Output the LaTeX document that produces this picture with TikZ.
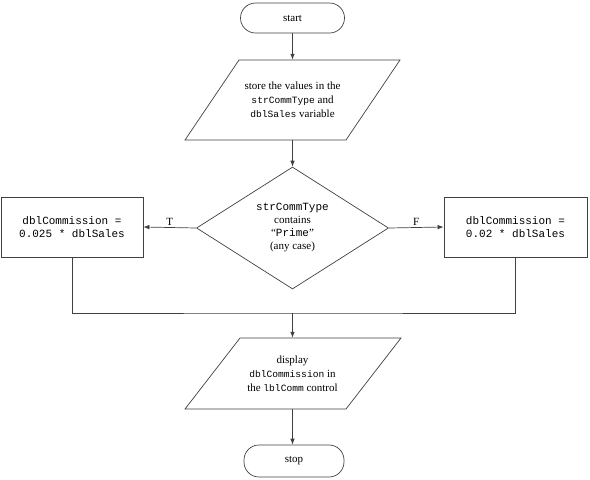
\documentclass[tikz,border=0pt]{standalone}
\usepackage{fontspec}
\setmainfont{Liberation Serif}
\setmonofont{Liberation Mono}
\usetikzlibrary{shapes.geometric,arrows.meta}
\begin{document}
\begin{tikzpicture}[x=1pt,y=-1pt,
  line/.style={draw=black!75,line width=0.7pt},
  arr/.style={line,-{Latex[length=6pt,width=4.5pt]}},
  term/.style={line,rectangle,rounded corners=15pt,align=center,font=\fontsize{11}{13}\selectfont,inner sep=0pt},
  txt/.style={align=center,inner sep=0pt,font=\fontsize{11}{14}\selectfont},
  pbox/.style={line,rectangle,align=center,inner sep=0pt,font=\fontsize{11}{12.5}\selectfont\ttfamily},
  lbl/.style={font=\fontsize{11}{13}\selectfont,inner sep=2pt}
]
\useasboundingbox (0,0) rectangle (590,480);
% start
\node[term,minimum width=104pt,minimum height=30pt] (start) at (292.5,18) {start};
% input parallelogram
\draw[line] (239,60) -- (400,60) -- (346,140) -- (185,140) -- cycle;
\node[txt,minimum width=110pt,minimum height=80pt] (in) at (292.5,100)
  {store the values in the\\{\fontsize{9.6}{14}\selectfont\ttfamily strCommType} and\\{\fontsize{9.6}{14}\selectfont\ttfamily dblSales} variable};
% decision
\node[line,diamond,aspect=1.57,minimum width=192pt,minimum height=122pt,inner sep=0pt] (dec) at (292.5,228) {};
\node[txt,font=\fontsize{11}{13}\selectfont] (dectxt) at (292.5,228)
  {{\ttfamily strCommType}\\contains\\“{\ttfamily Prime}”\\(any case)};
% process boxes
\node[pbox,minimum width=142pt,minimum height=60pt] (left) at (72,227) {dblCommission =\\0.025 * dblSales};
\node[pbox,minimum width=143pt,minimum height=60pt] (right) at (515.5,227) {dblCommission =\\0.02 * dblSales};
% output parallelogram
\draw[line] (240,338) -- (401,338) -- (346,409) -- (185,409) -- cycle;
\node[txt,minimum width=110pt,minimum height=71pt] (out) at (292.5,373.5)
  {display\\{\fontsize{9.6}{14}\selectfont\ttfamily dblCommission} in\\the {\fontsize{9.6}{14}\selectfont\ttfamily lblComm} control};
% stop
\node[term,minimum width=100pt,minimum height=32pt] (stop) at (294,461) {stop};
\coordinate (j) at (292.5,313);
% connectors
\draw[arr] (start.south) -- (in.north);
\draw[arr] (in.south) -- (dec.north);
\draw[arr] (dec.west) -- node[lbl,above] {T} (left.east);
\draw[arr] (dec.east) -- node[lbl,above] {F} (right.west);
\draw[line] (left.south) |- (j) -| (right.south);
\draw[arr] (j) -- (out.north);
\draw[arr] (out.south) -- (out.south |- stop.north);
\end{tikzpicture}
\end{document}
